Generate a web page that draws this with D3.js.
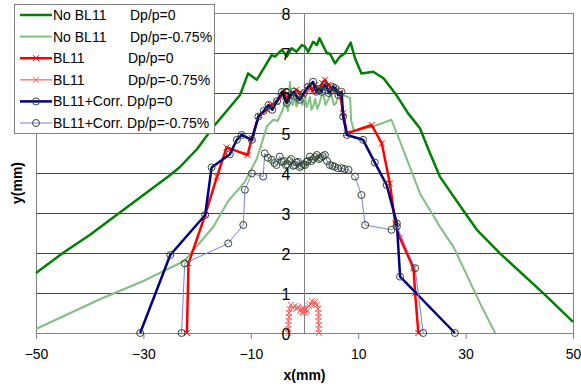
<!DOCTYPE html>
<html><head><meta charset="utf-8">
<script src="https://cdn.jsdelivr.net/npm/d3@7"></script>
<style>body{margin:0;background:#fff}svg{display:block}text{font-family:"Liberation Sans",Arial,sans-serif}</style>
</head><body><svg id="c" width="581" height="387"></svg>
<script>
// ---- data ----
const noBL11_0_x = [-50,-45,-40,-35,-30,-25,-23.2,-20,-17,-14.5,-12,-10.5,-8.9,-7.4,-6.1,-5.5,-4.9,-4.2,-3.3,-2.4,-1.5,-0.5,0.1,0.7,1.6,2.3,2.8,3.4,4.2,4.7,5.7,6.6,7.5,8.6,9.4,10.6,12.8,14.7,16.9,19.3,21.5,23.1,25.2,29.9,32.1,36.4,44.5,50];
const noBL11_0_y = [1.5,2.0,2.45,2.95,3.45,3.95,4.15,4.6,5.15,5.55,5.95,6.49,6.33,6.66,6.95,6.91,6.99,7.08,6.91,7.12,7.03,7.2,7.16,7.03,7.28,7.2,7.37,7.2,6.99,6.99,6.74,6.91,6.99,7.26,6.87,6.49,6.53,6.37,5.99,5.49,5.12,4.58,3.91,3.0,2.58,1.99,0.99,0.28];

const noBL11_m_x = [-50,-38,-30,-22.4,-17,-14.2,-11.1,-8.9,-7.0,-6.8,-5.8,-5.0,-4.5,-4.0,-3.6,-3.1,-2.7,-2.4,-2.2,-1.8,-1.5,-1.1,-0.8,-0.4,0.1,0.4,0.7,1.0,1.3,1.7,2.0,2.4,2.8,3.1,3.5,3.9,4.4,4.8,5.1,5.5,5.9,6.2,6.6,7.2,7.9,8.5,8.7,9.2,12.5,16.2,18.4,21.5,25.2,27.8,32.7,35.5];
const noBL11_m_y = [0.1,0.85,1.3,1.8,2.65,3.3,3.78,4.35,5.16,5.2,5.33,5.3,5.45,5.6,5.8,5.55,6.28,5.75,5.7,5.9,5.66,5.8,6.0,5.7,5.9,5.65,5.75,5.9,5.58,5.7,5.85,5.6,5.75,5.9,6.0,5.7,5.83,5.95,5.9,5.7,5.75,5.9,5.85,5.95,5.91,5.87,5.3,5.05,5.15,5.33,4.58,3.49,2.66,2.14,0.74,0];

const bl11_0_x = [-21.9,-21.6,-18.5,-16.3,-14.5,-10.6,-9.8,-8.5,-7.0,-6.2,-5.2,-4.5,-3.9,-3.3,-2.7,-2.1,-1.5,-0.8,-0.2,0.4,1.0,1.5,2.0,2.4,2.8,3.3,3.8,4.4,4.9,5.3,6.0,6.6,7.2,7.9,12.5,14.4,15.9,16.9,17.8,20.3,20.6,21.2];
const bl11_0_y = [0,1.74,2.95,3.91,4.64,4.45,4.87,5.43,5.58,5.7,5.78,5.9,6.03,5.85,5.9,6.0,6.08,6.0,5.95,6.1,6.16,6.05,6.2,6.12,6.08,6.25,6.33,6.2,6.15,6.08,6.08,6.0,5.5,4.99,5.2,4.74,3.74,2.74,2.37,1.62,1.0,0];

const bl11_m_x = [-3.0,-3.0,-3.0,-3.0,-2.9,-2.9,-2.8,-2.5,-2.2,-1.8,-1.5,-1.2,-0.8,-0.5,-0.3,0.0,-0.4,-0.1,-0.3,0.2,-0.2,0.5,0.2,0.8,1.1,1.4,1.7,2.0,2.3,2.5,2.6,2.6,2.6,2.7,2.6,2.7];
const bl11_m_y = [0,0.1,0.2,0.3,0.4,0.5,0.6,0.7,0.62,0.68,0.6,0.65,0.55,0.6,0.5,0.58,0.52,0.6,0.55,0.5,0.62,0.55,0.6,0.68,0.72,0.8,0.7,0.78,0.7,0.6,0.5,0.4,0.3,0.2,0.1,0];

const corr_0_x = [-30.6,-25.0,-18.5,-17.3,-13.9,-12.6,-11.7,-9.8,-8.6,-7.6,-6.7,-6.0,-5.1,-4.2,-3.3,-2.6,-2.0,-1.4,-0.9,-0.1,0.7,1.6,2.2,2.7,3.2,3.7,4.1,4.5,4.9,5.3,5.7,6.3,6.9,7.2,7.9,10.9,13.1,15.3,17.2,17.8,28.0];
const corr_0_y = [0,1.95,2.95,4.14,4.47,4.83,4.95,4.83,5.41,5.55,5.7,5.58,5.8,6.03,5.75,5.95,6.03,5.9,5.83,6.0,6.16,6.28,6.03,6.1,6.03,6.2,6.16,6.0,6.05,6.15,6.12,5.95,6.03,5.41,4.95,4.83,4.26,3.7,2.74,1.41,0];

const corr_m_x = [-22.9,-22.3,-14.2,-11.4,-11.1,-9.8,-7.7,-7.4,-6.8,-6.1,-5.6,-5.2,-4.6,-4.2,-3.9,-3.5,-3.2,-2.8,-2.5,-2.1,-1.8,-1.5,-1.2,-0.9,-0.6,-0.2,0.1,0.4,0.6,1.0,1.3,1.6,2.0,2.3,2.7,3.0,3.4,3.8,4.2,4.7,5.2,5.6,6.2,6.9,7.5,8.2,9.4,10.6,11.3,16.2,17.2,20.6,22.1];
const corr_m_y = [0,1.74,2.24,2.7,3.58,3.99,3.91,4.49,4.38,4.33,4.25,4.2,4.41,4.28,4.3,4.2,4.22,4.3,4.35,4.18,4.2,4.26,4.28,4.15,4.18,4.22,4.2,4.28,4.3,4.41,4.3,4.35,4.4,4.45,4.35,4.38,4.42,4.45,4.3,4.2,4.18,4.16,4.12,4.12,4.1,4.08,3.91,3.45,2.7,2.58,2.66,1.62,0];

const legendNames = ["No BL11","No BL11","BL11","BL11","BL11+Corr. Dp/p=0","BL11+Corr. Dp/p=-0.75%"];
const legendDp = ["Dp/p=0","Dp/p=-0.75%","Dp/p=0","Dp/p=-0.75%","",""];
const xTicks = [-50,-30,-10,10,30,50];
const yTicks = [0,1,2,3,4,5,6,7,8];

// ---- styles ----
const series = [
  {x:noBL11_0_x,y:noBL11_0_y,color:"#008000",w:2.5,marker:null},
  {x:noBL11_m_x,y:noBL11_m_y,color:"#80c080",w:2,marker:null},
  {x:bl11_0_x,y:bl11_0_y,color:"#ff0000",w:2.5,marker:"x",mcolor:"#ff0000"},
  {x:bl11_m_x,y:bl11_m_y,color:"#ff8080",w:1.5,marker:"x",mcolor:"#ff6060"},
  {x:corr_0_x,y:corr_0_y,color:"#000080",w:2.5,marker:"o",mcolor:"#304830"},
  {x:corr_m_x,y:corr_m_y,color:"#8080e0",w:1,marker:"o",mcolor:"#304830"}
];

const svg = d3.select("#c");
const x = d3.scaleLinear().domain([-50,50]).range([36,573]);
const y = d3.scaleLinear().domain([0,8]).range([333,13]);

// gridlines
svg.append("g").selectAll("line").data(yTicks.filter(d=>d>0)).join("line")
  .attr("x1",x(-50)).attr("x2",x(50)).attr("y1",d=>y(d)).attr("y2",d=>y(d))
  .attr("stroke","#444").attr("stroke-width",1).attr("shape-rendering","crispEdges");
// plot border
svg.append("rect").attr("x",x(-50)).attr("y",y(8)).attr("width",x(50)-x(-50)).attr("height",y(0)-y(8))
  .attr("fill","none").attr("stroke","#808080").attr("shape-rendering","crispEdges");
// x axis at y=0
const xAxis = d3.axisBottom(x).tickValues(xTicks).tickSize(6).tickFormat(d3.format("d"));
const gx = svg.append("g").attr("transform",`translate(0,${y(0)})`).call(xAxis);
gx.select(".domain").attr("stroke","#808080");
gx.selectAll(".tick line").attr("stroke","#808080");
gx.selectAll(".tick text").attr("font-size",14).attr("fill","#000").attr("y",16).attr("font-family","Liberation Sans, Arial, sans-serif");
// y axis at x=0
svg.append("line").attr("x1",x(0)).attr("x2",x(0)).attr("y1",y(0)).attr("y2",y(8))
  .attr("stroke","#808080").attr("shape-rendering","crispEdges");

// series
const line = d3.line();
series.forEach(s=>{
  const pts = s.x.map((v,i)=>[x(v),y(s.y[i])]);
  svg.append("path").attr("d",line(pts)).attr("fill","none")
    .attr("stroke",s.color).attr("stroke-width",s.w).attr("stroke-linejoin","round");
  if(s.marker==="x"){
    svg.append("g").selectAll("path").data(pts).join("path")
      .attr("d",d=>`M${d[0]-3},${d[1]-3}L${d[0]+3},${d[1]+3}M${d[0]-3},${d[1]+3}L${d[0]+3},${d[1]-3}`)
      .attr("stroke",s.mcolor).attr("stroke-width",1);
  } else if(s.marker==="o"){
    svg.append("g").selectAll("circle").data(pts).join("circle")
      .attr("cx",d=>d[0]).attr("cy",d=>d[1]).attr("r",3.5)
      .attr("fill","none").attr("stroke",s.mcolor).attr("stroke-width",1);
  }
});

// y tick labels next to x=0 axis
svg.append("g").selectAll("text").data(yTicks).join("text")
  .attr("x",x(0)-14).attr("y",d=>y(d)+7).attr("text-anchor","end")
  .attr("font-size",16).text(d=>d);

// axis titles
svg.append("text").attr("x",x(0)).attr("y",380).attr("text-anchor","middle")
  .attr("font-size",14).attr("font-weight","bold").text("x(mm)");
svg.append("text").attr("transform","translate(22,183) rotate(-90)").attr("text-anchor","middle")
  .attr("font-size",14).attr("font-weight","bold").text("y(mm)");

// legend
const lg = svg.append("g");
lg.append("rect").attr("x",14.5).attr("y",4.5).attr("width",200).attr("height",129)
  .attr("fill","#fff").attr("stroke","#808080");
series.forEach((s,i)=>{
  const cy = 15 + i*21.6;
  lg.append("line").attr("x1",20).attr("x2",52).attr("y1",cy).attr("y2",cy)
    .attr("stroke",s.color).attr("stroke-width",s.w);
  if(s.marker==="x"){
    lg.append("path").attr("d",`M33,${cy-3}L39,${cy+3}M33,${cy+3}L39,${cy-3}`).attr("stroke",s.mcolor);
  } else if(s.marker==="o"){
    lg.append("circle").attr("cx",36).attr("cy",cy).attr("r",3.5).attr("fill","none").attr("stroke",s.mcolor);
  }
  const t = lg.append("text").attr("x",53).attr("y",cy+5).attr("font-size",14);
  t.append("tspan").text(legendNames[i]);
  if(legendDp[i]) t.append("tspan").attr("x", i<2 ? 130 : 128).text(legendDp[i]);
});
</script></body></html>
